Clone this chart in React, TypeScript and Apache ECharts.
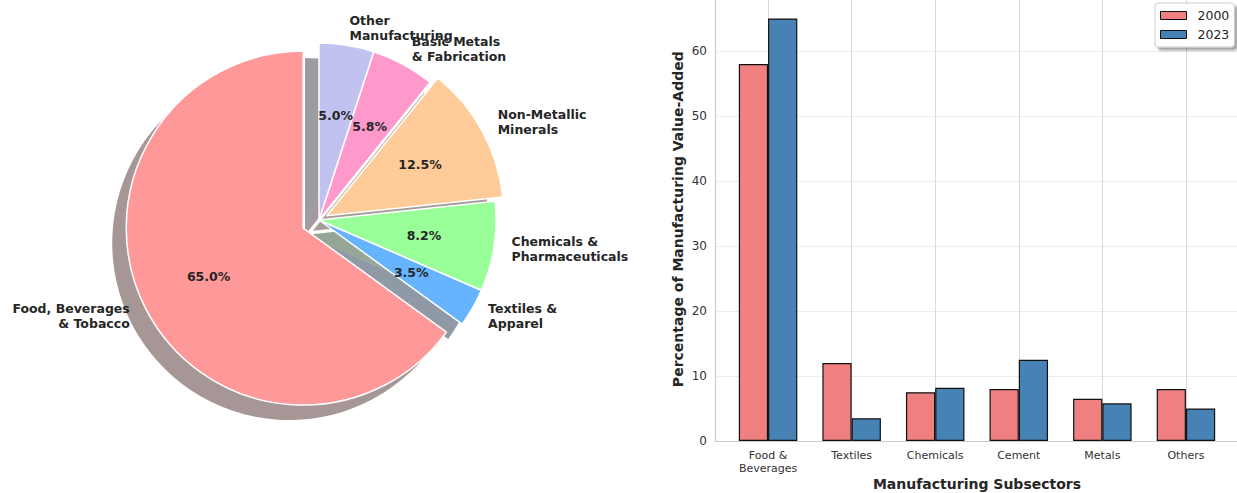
import React, { useEffect, useRef } from 'react';
import * as echarts from 'echarts';

// ---------- data ----------
const pieNames = [
  'Food, Beverages\n& Tobacco',
  'Textiles &\nApparel',
  'Chemicals &\nPharmaceuticals',
  'Non-Metallic\nMinerals',
  'Basic Metals\n& Fabrication',
  'Other\nManufacturing',
];
const pieShares = [65.0, 3.5, 8.2, 12.5, 5.8, 5.0];
const pieColors = ['#ff9999', '#66b3ff', '#99ff99', '#ffcc99', '#ff99cc', '#c2c2f0'];
const pieExplode = [0.1, 0, 0, 0.05, 0, 0];

const subsectors = ['Food &\nBeverages', 'Textiles', 'Chemicals', 'Cement', 'Metals', 'Others'];
const share2000 = [58, 12, 7.5, 8, 6.5, 8];
const share2023 = [65, 3.5, 8.2, 12.5, 5.8, 5.0];
const yearNames = ['2000', '2023'];
const yearColors = ['#f08080', '#4682b4'];

// ---------- layout ----------
const FONT = 'DejaVu Sans';
const TEXT = '#262626';
const PIE_CX = 319;
const PIE_CY = 220;
const PIE_R = 177;
const SHADOW_DX = -14;
const SHADOW_DY = 15;
const PCT_DIST = 0.6; // fraction of radius
const LABEL_DIST = 1.1;
const PCT_R0 = 2 * (PCT_DIST * PIE_R - 3) - PIE_R;

const GRID_LEFT = 715;
const GRID_RIGHT_EDGE = 1239;
const GRID_BOTTOM_Y = 441;
const BAR_W_UNITS = 0.35;
const X_MARGIN = 0.05;
const X_SPAN_DATA = subsectors.length - 1 + 2 * BAR_W_UNITS;
const X_MIN = -BAR_W_UNITS - X_MARGIN * X_SPAN_DATA;
const X_MAX = subsectors.length - 1 + BAR_W_UNITS + X_MARGIN * X_SPAN_DATA;
const Y_MAX = Math.max(...share2000, ...share2023) * 1.05;
const PX_PER_Y = 6.5;
const PLOT_W = GRID_RIGHT_EDGE - GRID_LEFT;
const BAR_PX = (BAR_W_UNITS * PLOT_W) / (X_MAX - X_MIN);

function shade(hex: string) {
  const n = parseInt(hex.slice(1), 16);
  const r = (n >> 16) & 255;
  const g = (n >> 8) & 255;
  const b = n & 255;
  return `rgba(${Math.round(r * 0.3)},${Math.round(g * 0.3)},${Math.round(b * 0.3)},0.5)`;
}

const CLEAR = 'rgba(0,0,0,0)';

function pieSeries(kind: 'shadow' | 'main' | 'pct', group: number) {
  const labelFont = { fontFamily: FONT, fontSize: 12.5, fontWeight: 'bold', color: TEXT, lineHeight: 15 };
  return {
    type: 'pie',
    silent: true,
    animation: false,
    center: kind === 'shadow' ? [PIE_CX + SHADOW_DX, PIE_CY + SHADOW_DY] : [PIE_CX, PIE_CY],
    radius: kind === 'pct' ? [PCT_R0, PIE_R] : [0, PIE_R],
    startAngle: 90,
    clockwise: false,
    selectedMode: 'multiple',
    selectedOffset: group * PIE_R,
    avoidLabelOverlap: false,
    labelLayout: { hideOverlap: false },
    percentPrecision: 1,
    emphasis: { disabled: true },
    label:
      kind === 'main'
        ? {
            show: true,
            position: 'outside',
            alignTo: 'none',
            distanceToLabelLine: 0,
            formatter: '{b}',
            ...labelFont,
          }
        : kind === 'pct'
        ? {
            show: true,
            position: 'inside',
            formatter: (p: any) => `${Number(p.percent).toFixed(1)}%`,
            ...labelFont,
          }
        : { show: false },
    labelLine: { show: false, length: (LABEL_DIST - 1) * PIE_R, length2: 0 },
    data: pieShares.map((v, i) => {
      const on = pieExplode[i] === group;
      let style: any;
      if (!on || kind === 'pct') style = { color: CLEAR, borderWidth: 0 };
      else if (kind === 'shadow') style = { color: shade(pieColors[i]), borderWidth: 0 };
      else style = { color: pieColors[i], borderColor: '#ffffff', borderWidth: 1.5 };
      return {
        value: v,
        name: pieNames[i],
        selected: on && group > 0,
        itemStyle: style,
        select: { itemStyle: style },
        label: { show: on && kind !== 'shadow' },
      };
    }),
  };
}

const groups = Array.from(new Set(pieExplode));

export default function App() {
  const ref = useRef<HTMLDivElement>(null);
  useEffect(() => {
    if (!ref.current) return;
    const chart = echarts.init(ref.current, null, { renderer: 'svg' });
    const series: any[] = [];
    (['shadow', 'main', 'pct'] as const).forEach((k) => groups.forEach((g) => series.push(pieSeries(k, g))));
    yearNames.forEach((y, si) => {
      const vals = si === 0 ? share2000 : share2023;
      series.push({
        type: 'bar',
        name: y,
        xAxisIndex: 0,
        yAxisIndex: 0,
        barWidth: BAR_PX,
        barGap: '0%',
        itemStyle: { color: yearColors[si], borderColor: '#111', borderWidth: 1.2 },
        emphasis: { disabled: true },
        data: vals.map((v, i) => [i, v]),
      });
    });
    chart.setOption({
      animation: false,
      textStyle: { fontFamily: FONT },
      grid: {
        left: GRID_LEFT,
        right: 1237 - GRID_RIGHT_EDGE,
        top: GRID_BOTTOM_Y - Y_MAX * PX_PER_Y,
        bottom: 493 - GRID_BOTTOM_Y,
        outerBoundsMode: 'none',
        containLabel: false,
      },
      legend: {
        data: yearNames,
        orient: 'vertical',
        left: 1155,
        top: 3,
        icon: 'rect',
        itemWidth: 26,
        itemHeight: 8,
        itemGap: 4,
        padding: [5, 5, 5, 5],
        backgroundColor: '#ffffff',
        borderColor: '#cccccc',
        borderWidth: 1,
        borderRadius: 3,
        shadowColor: 'rgba(0,0,0,0.35)',
        shadowBlur: 2,
        shadowOffsetX: 3,
        shadowOffsetY: 3,
        itemStyle: { borderColor: '#111', borderWidth: 1 },
        textStyle: { fontFamily: FONT, fontSize: 12.5, color: TEXT, lineHeight: 15, padding: [0, 0, 0, 6] },
      },
      xAxis: {
        type: 'value',
        min: X_MIN,
        max: X_MAX,
        splitNumber: 6,
        minInterval: 1,
        maxInterval: 1,
        name: 'Manufacturing Subsectors',
        nameLocation: 'middle',
        nameGap: 36,
        nameMoveOverlap: false,
        nameTextStyle: { fontFamily: FONT, fontSize: 14, fontWeight: 'bold', color: TEXT, lineHeight: 14 },
        axisLine: { show: true, onZero: false, lineStyle: { color: '#cccccc', width: 1.2 } },
        axisTick: { show: false },
        splitLine: { show: true, lineStyle: { color: '#d9d9d9', width: 1 } },
        axisLabel: {
          margin: 8,
          fontFamily: FONT,
          fontSize: 11,
          lineHeight: 13,
          color: '#333333',
          formatter: (v: number) => (Number.isInteger(v) && subsectors[v] ? subsectors[v] : ''),
        },
      },
      yAxis: {
        type: 'value',
        min: 0,
        max: Y_MAX,
        interval: 10,
        name: 'Percentage of Manufacturing Value-Added',
        nameLocation: 'middle',
        nameGap: 30,
        nameMoveOverlap: false,
        nameTextStyle: { fontFamily: FONT, fontSize: 14, fontWeight: 'bold', color: TEXT },
        axisLine: { show: true, onZero: false, lineStyle: { color: '#cccccc', width: 1.2 } },
        axisTick: { show: false },
        splitLine: { show: true, lineStyle: { color: '#ececec', width: 1 } },
        axisLabel: {
          margin: 8,
          fontFamily: FONT,
          fontSize: 12,
          color: '#333333',
          formatter: (v: number) => (v % 10 === 0 ? String(v) : ''),
        },
      },
      series,
    });
    return () => chart.dispose();
  }, []);
  return (
    <div
      ref={ref}
      style={{ position: 'absolute', left: 0, top: 0, width: 1237, height: 493, background: '#ffffff' }}
    />
  );
}
